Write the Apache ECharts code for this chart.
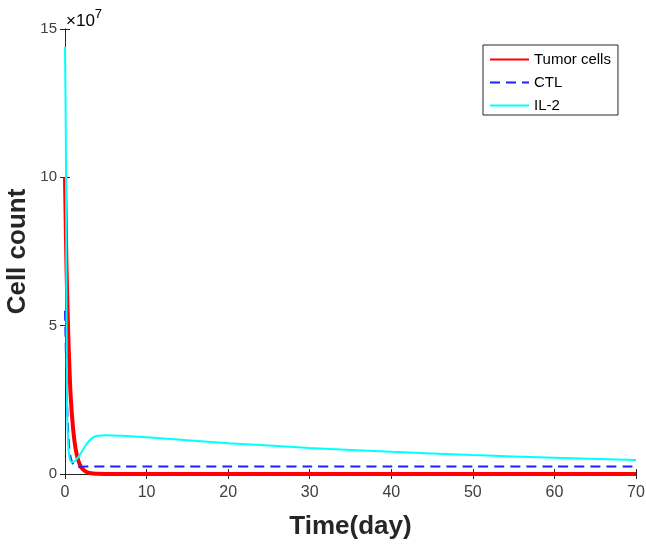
<!DOCTYPE html>
<html>
<head>
<meta charset="utf-8">
<script src="https://cdn.jsdelivr.net/npm/echarts@6/dist/echarts.min.js"></script>
<style>
  html, body { margin: 0; padding: 0; background: #fff; }
  #chart { width: 646px; height: 545px; }
</style>
</head>
<body>
<div id="chart"></div>
<script>
// time in days, values in units of 1e7 cells
const days = [0, 0.1, 0.15, 0.2, 0.25, 0.3, 0.4, 0.5, 0.7, 1, 1.3, 1.6, 2, 2.5, 3, 3.5, 4, 5, 7, 10, 15, 20, 30, 40, 50, 60, 70];
const tumorCells = [10, 8.3, 7.5, 6.8, 6.2, 5.7, 4.7, 3.9, 2.6, 1.5, 0.85, 0.48, 0.22, 0.09, 0.035, 0.015, 0.006, 0.002, 0.001, 0.001, 0.001, 0.001, 0.001, 0.001, 0.001, 0.001, 0.001];
const ctl = [5.5, 4.2, 3.6, 3.0, 2.5, 2.0, 1.4, 0.95, 0.55, 0.33, 0.26, 0.24, 0.24, 0.25, 0.25, 0.25, 0.25, 0.25, 0.25, 0.25, 0.25, 0.25, 0.25, 0.25, 0.25, 0.25, 0.25];
const il2 = [14.4, 11.5, 8.0, 4.5, 2.4, 1.7, 1.0, 0.65, 0.42, 0.4, 0.46, 0.56, 0.72, 0.95, 1.13, 1.24, 1.29, 1.31, 1.29, 1.24, 1.14, 1.04, 0.88, 0.75, 0.64, 0.55, 0.47];
const seriesNames = ['Tumor cells', 'CTL', 'IL-2'];
const xTicks = { min: 0, max: 70, step: 10 };
const yTicks = { min: 0, max: 15, step: 5 };

function pairs(vals) {
  return days.map((d, i) => [d, vals[i]]);
}

const chart = echarts.init(document.getElementById('chart'));
const labelFont = 'Arial, "Liberation Sans", sans-serif';
const axisLineStyle = { color: '#262626', width: 1 };

const option = {
  backgroundColor: '#fff',
  animation: false,
  grid: { left: 65, right: 10, top: 29, bottom: 71, outerBoundsMode: 'none', containLabel: false },
  legend: {
    orient: 'vertical',
    left: 483,
    top: 45,
    data: seriesNames,
    itemWidth: 39,
    itemHeight: 14,
    itemGap: 8,
    padding: [7, 7, 2, 6],
    borderColor: '#262626',
    borderWidth: 1,
    backgroundColor: '#fff',
    itemStyle: { opacity: 0 },
    textStyle: { fontFamily: labelFont, fontSize: 15, color: '#000' }
  },
  graphic: [{
    type: 'text',
    left: 66,
    top: 8,
    style: {
      text: '{a|×10}{b|7}',
      rich: {
        a: { fontFamily: labelFont, fontSize: 17, color: '#404040', verticalAlign: 'bottom' },
        b: { fontFamily: labelFont, fontSize: 13, color: '#404040', verticalAlign: 'top', padding: [0, 0, 9, 0] }
      }
    }
  }],
  xAxis: [{
    type: 'value',
    min: xTicks.min,
    max: xTicks.max,
    interval: xTicks.step,
    name: 'Time(day)',
    nameLocation: 'middle',
    nameGap: 40,
    nameTextStyle: { fontFamily: labelFont, fontSize: 26, fontWeight: 'bold', color: '#262626' },
    axisLine: { lineStyle: axisLineStyle },
    axisTick: { inside: true, length: 5, lineStyle: axisLineStyle },
    axisLabel: { margin: 11, fontFamily: labelFont, fontSize: 16, color: '#404040' },
    splitLine: { show: false }
  }, {
    type: 'value',
    position: 'top',
    min: xTicks.min,
    max: xTicks.max,
    interval: xTicks.step,
    axisLine: { lineStyle: axisLineStyle },
    axisTick: { inside: true, length: 5, lineStyle: axisLineStyle },
    axisLabel: { show: false },
    splitLine: { show: false }
  }],
  yAxis: [{
    type: 'value',
    min: yTicks.min,
    max: yTicks.max,
    interval: yTicks.step,
    name: 'Cell count',
    nameLocation: 'middle',
    nameGap: 34,
    nameMoveOverlap: false,
    nameTextStyle: { fontFamily: labelFont, fontSize: 26, fontWeight: 'bold', color: '#262626' },
    axisLine: { show: true, lineStyle: axisLineStyle },
    axisTick: { show: true, inside: true, length: 5, lineStyle: axisLineStyle },
    axisLabel: { margin: 8, fontFamily: labelFont, fontSize: 15, color: '#404040' },
    splitLine: { show: false }
  }, {
    type: 'value',
    position: 'right',
    min: yTicks.min,
    max: yTicks.max,
    interval: yTicks.step,
    axisLine: { show: true, lineStyle: axisLineStyle },
    axisTick: { show: true, inside: true, length: 5, lineStyle: axisLineStyle },
    axisLabel: { show: false },
    splitLine: { show: false }
  }],
  series: [{
    name: seriesNames[0],
    type: 'line',
    symbol: 'none',
    smooth: 0.3,
    color: '#ff0000',
    lineStyle: { color: '#ff0000', width: 4 },
    data: pairs(tumorCells)
  }, {
    name: seriesNames[1],
    type: 'line',
    symbol: 'none',
    smooth: 0.3,
    color: '#1f1fff',
    lineStyle: { color: '#1f1fff', width: 2, type: [10, 6] },
    data: pairs(ctl)
  }, {
    name: seriesNames[2],
    type: 'line',
    symbol: 'none',
    smooth: 0.3,
    color: '#00ffff',
    lineStyle: { color: '#00ffff', width: 2 },
    data: pairs(il2)
  }]
};

chart.setOption(option);
</script>
</body>
</html>
